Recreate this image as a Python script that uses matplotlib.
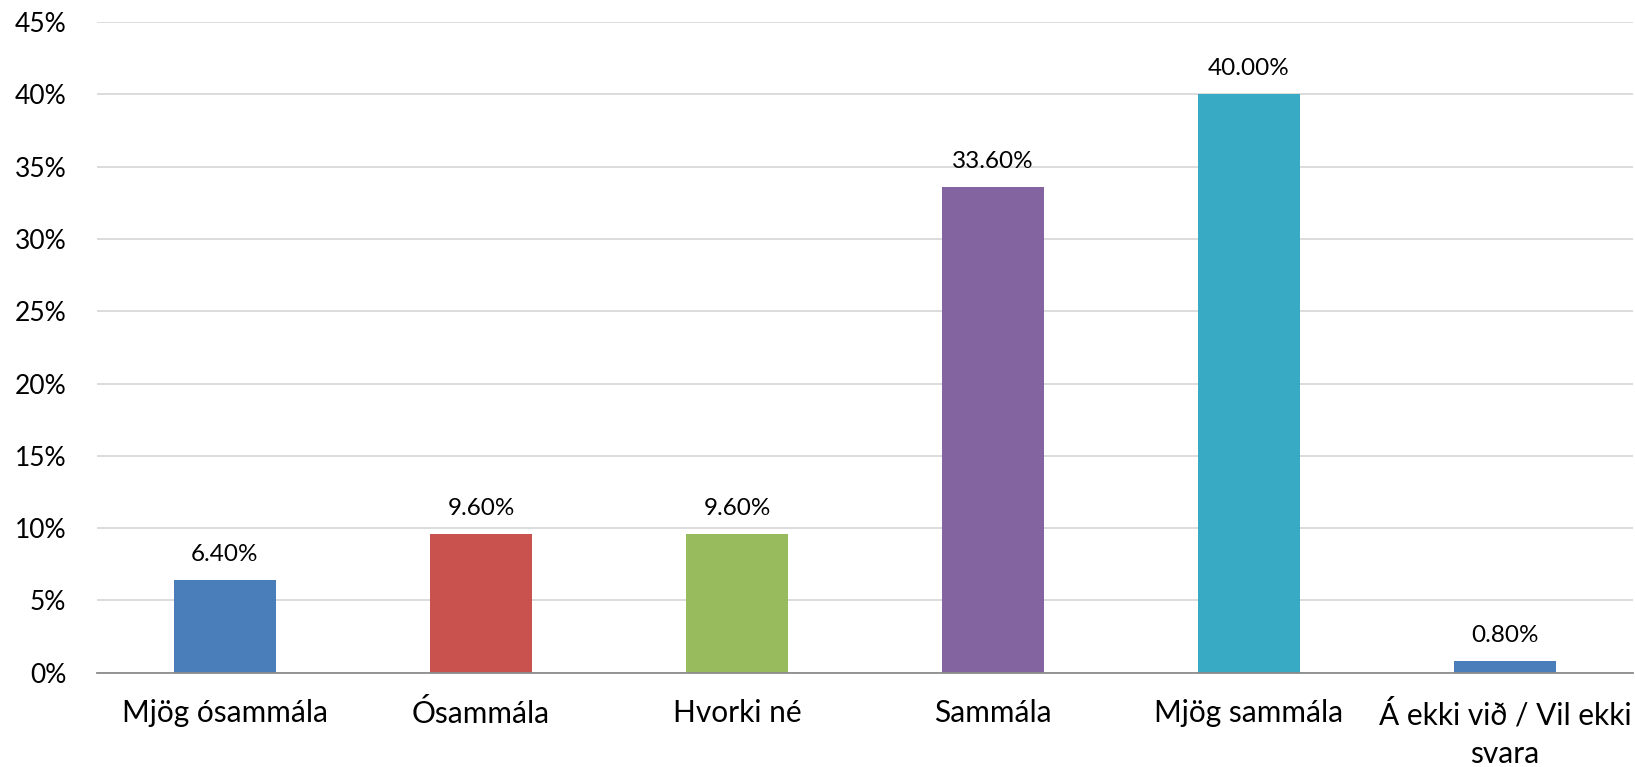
import matplotlib
matplotlib.use("Agg")
import matplotlib.pyplot as plt
from matplotlib.ticker import FuncFormatter, MultipleLocator

categories = ["Mjög ósammála", "Ósammála", "Hvorki né", "Sammála", "Mjög sammála", "Á ekki við / Vil ekki\nsvara"]
values = [6.40, 9.60, 9.60, 33.60, 40.00, 0.80]
colors = ["#4A7EBB", "#C9524F", "#98BB5D", "#8364A0", "#38AAC4", "#4A7EBB"]
value_labels = ["6.40%", "9.60%", "9.60%", "33.60%", "40.00%", "0.80%"]

plt.rcParams['font.family'] = ['Lato', 'DejaVu Sans']

fig = plt.figure(figsize=(16.35, 7.67), dpi=100)
ax = fig.add_axes([0.0593, 0.1229, 0.9395, 0.8484])

x = list(range(len(categories)))
bars = ax.bar(x, values, width=0.40, color=colors, zorder=3)

for xi, v, lab in zip(x, values, value_labels):
    ax.annotate(lab, (xi, v), xytext=(0, 11), textcoords="offset points",
                ha="center", va="bottom", fontsize=17.5, color="#000000")

ax.set_xlim(-0.5, len(categories) - 0.5)
ax.set_ylim(0, 45)
ax.yaxis.set_major_locator(MultipleLocator(5))
ax.yaxis.set_major_formatter(FuncFormatter(lambda v, p: f"{v:.0f}%"))
ax.set_xticks(x)
ax.set_xticklabels(categories, fontsize=21.5, linespacing=1.45)
ax.tick_params(axis='y', labelsize=19, length=0, pad=22)
ax.tick_params(axis='x', length=0, pad=19)

ax.grid(axis='y', color="#D9D9D9", linewidth=1.3, zorder=0)
for s in ["top", "right", "left"]:
    ax.spines[s].set_visible(False)
ax.spines["bottom"].set_color("#8C8C8C")
ax.spines["bottom"].set_linewidth(1.3)
ax.spines["bottom"].set_zorder(4)

fig.savefig("out.png", dpi=100)
